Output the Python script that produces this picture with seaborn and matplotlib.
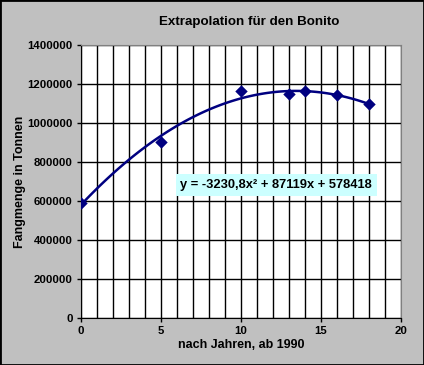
import matplotlib
matplotlib.use("Agg")
import matplotlib.pyplot as plt
import seaborn as sns
from matplotlib.patches import Rectangle

years = [0, 5, 10, 13, 14, 16, 18]
catch = [590000, 904000, 1164000, 1147000, 1164000, 1144000, 1096000]
equation = "y = -3230,8x² + 87119x + 578418"

sns.set_style("white")
plt.rcParams["font.family"] = ["Liberation Sans", "DejaVu Sans"]
plt.rcParams["font.weight"] = "bold"
plt.rcParams["text.color"] = "black"
plt.rcParams["axes.labelcolor"] = "black"
plt.rcParams["xtick.color"] = "black"
plt.rcParams["ytick.color"] = "black"

fig = plt.figure(figsize=(4.24, 3.65), dpi=100, facecolor="#c0c0c0")
ax = fig.add_axes([81 / 424, 47 / 365, 320 / 424, 273 / 365])
ax.set_facecolor("white")

navy = "#000080"
sns.regplot(x=years, y=catch, order=2, ci=None, truncate=True, ax=ax,
            scatter=False, line_kws={"color": navy, "lw": 1.8})
ax.scatter(years, catch, marker="D", s=40, color=navy, zorder=4, linewidths=0)

ax.set_xlim(0, 20)
ax.set_ylim(0, 1400000)
ax.set_xticks(range(0, 21, 5))
ax.set_xticks(range(0, 21), minor=True)
ax.set_yticks(range(0, 1400001, 200000))
ax.grid(True, which="both", color="black", lw=1)
ax.set_axisbelow(True)
ax.tick_params(axis="both", which="major", labelsize=8.2, length=3, width=1,
               color="black", labelcolor="black", direction="out",
               bottom=True, left=True, pad=3)
ax.tick_params(axis="x", which="minor", length=0)
ax.ticklabel_format(style="plain", axis="y")
for lbl in ax.get_xticklabels() + ax.get_yticklabels():
    lbl.set_fontweight("bold")
for side in ["left", "bottom"]:
    ax.spines[side].set_color("black")
for side in ["right", "top"]:
    ax.spines[side].set_color("#808080")

ax.set_xlabel("nach Jahren, ab 1990", fontsize=9, fontweight="bold", labelpad=2,
              color="black")
ax.set_ylabel("Fangmenge in Tonnen", fontsize=9, fontweight="bold", labelpad=1,
              color="black")
fig.suptitle("Extrapolation für den Bonito", fontsize=9.6, fontweight="bold",
             y=1 - 22 / 365, va="center", x=0.588, color="black")

ax.text(12.2, 682000, equation, fontsize=9.3, fontweight="bold", ha="center",
        va="center", color="black",
        bbox=dict(boxstyle="square,pad=0.35", fc="#ccffff", ec="none"), zorder=5)

fig.patches.append(Rectangle((0, 0), 1, 1, transform=fig.transFigure, fill=False,
                             ec="black", lw=2))

fig.savefig("out.png", dpi=100, facecolor=fig.get_facecolor())
